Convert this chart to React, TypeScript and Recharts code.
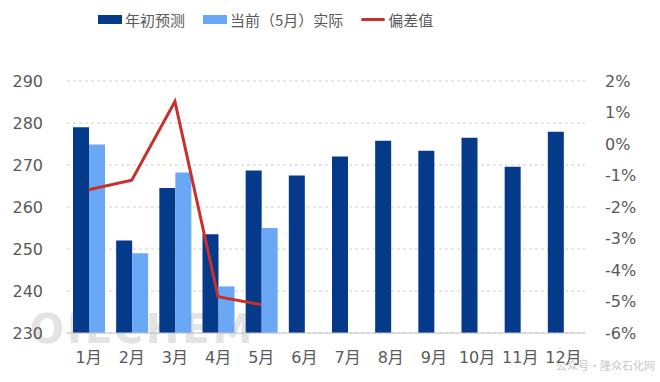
import React from "react";
import {
  ComposedChart,
  Bar,
  Line,
  XAxis,
  YAxis,
  CartesianGrid,
  Legend,
} from "recharts";

const months = ["1月", "2月", "3月", "4月", "5月", "6月", "7月", "8月", "9月", "10月", "11月", "12月"];
const forecast = [279, 252, 264.5, 253.5, 268.7, 267.5, 272, 275.8, 273.4, 276.5, 269.6, 277.9];
const actual: (number | null)[] = [274.9, 249, 268.2, 241.1, 255, null, null, null, null, null, null, null];
const deviation: (number | null)[] = [-1.45, -1.15, 1.35, -4.85, -5.1, null, null, null, null, null, null, null];

const leftTicks = [230, 240, 250, 260, 270, 280, 290];
const rightTicks = [-6, -5, -4, -3, -2, -1, 0, 1, 2];

const DARK = "#05398a";
const LIGHT = "#6aa8f6";
const RED = "#c9302c";
const TEXT = "#595959";
const FONT = "'DejaVu Sans', 'Noto Sans CJK SC', sans-serif";

const data = months.map((m, i) => ({
  month: m,
  forecast: forecast[i],
  actual: actual[i],
  deviation: deviation[i],
}));

const legendItems = [
  { label: "年初预测", color: DARK, kind: "bar" },
  { label: "当前（5月）实际", color: LIGHT, kind: "bar" },
  { label: "偏差值", color: RED, kind: "line" },
];

function MyLegend() {
  return (
    <div
      style={{
        display: "flex",
        alignItems: "center",
        fontFamily: "'Noto Sans CJK SC', sans-serif",
        fontSize: 15,
        color: TEXT,
        paddingLeft: 98,
      }}
    >
      {legendItems.map((it, i) => (
        <div key={it.label} style={{ display: "flex", alignItems: "center", marginLeft: i ? 18 : 0 }}>
          <span
            style={{
              display: "inline-block",
              width: 24,
              height: it.kind === "bar" ? 9 : 3,
              background: it.color,
              borderRadius: it.kind === "line" ? 2 : 0,
              marginRight: 3,
            }}
          />
          <span>{it.label}</span>
        </div>
      ))}
    </div>
  );
}

export default function App() {
  return (
    <div style={{ position: "absolute", left: 0, top: 0, width: 660, height: 382, background: "#fff" }}>
      <div
        style={{
          position: "absolute",
          left: 30,
          top: 306,
          fontFamily: "'DejaVu Sans', sans-serif",
          fontWeight: "bold",
          fontSize: 40,
          letterSpacing: 3,
          color: "#e3e3e3",
        }}
      >
        OILCHEM
      </div>
      <div
        style={{
          position: "absolute",
          left: 556,
          top: 357,
          whiteSpace: "nowrap",
          fontFamily: "'Noto Sans CJK SC', sans-serif",
          fontSize: 11,
          color: "#c8c8c8",
        }}
      >
        公众号·隆众石化网
      </div>
      <div style={{ position: "absolute", left: 0, top: 0 }}>
        <ComposedChart
          width={660}
          height={382}
          data={data}
          margin={{ top: 81, right: 0, bottom: 0, left: 0 }}
          barGap={0}
          barSize={16}
        >
          <CartesianGrid
            yAxisId="left"
            vertical={false}
            stroke="#d0d0d0"
            strokeDasharray="3 3"
          />
          <XAxis
            dataKey="month"
            height={49}
            tickLine={false}
            axisLine={{ stroke: "#c4c4c4" }}
            tickMargin={13}
            interval={0}
            tick={{ fill: TEXT, fontSize: 16, fontFamily: FONT }}
          />
          <YAxis
            yAxisId="left"
            orientation="left"
            width={67}
            domain={[230, 290]}
            ticks={leftTicks}
            axisLine={false}
            tickLine={false}
            tickMargin={18}
            tick={{ fill: TEXT, fontSize: 16, fontFamily: FONT }}
          />
          <YAxis
            yAxisId="right"
            orientation="right"
            width={75}
            domain={[-6, 2]}
            ticks={rightTicks}
            axisLine={false}
            tickLine={false}
            tickMargin={14}
            tickFormatter={(v) => `${v}%`}
            tick={{ fill: TEXT, fontSize: 16, fontFamily: FONT }}
          />
          <Legend
            layout="horizontal"
            verticalAlign="middle"
            align="center"
            wrapperStyle={{ top: 9, left: 0, width: 660 }}
            content={() => <MyLegend />}
          />
          <Bar yAxisId="left" dataKey="forecast" name="年初预测" fill={DARK} isAnimationActive={false} />
          <Bar yAxisId="left" dataKey="actual" name="当前（5月）实际" fill={LIGHT} isAnimationActive={false} />
          <Line
            yAxisId="right"
            dataKey="deviation"
            name="偏差值"
            type="linear"
            stroke={RED}
            strokeWidth={3}
            dot={false}
            activeDot={false}
            isAnimationActive={false}
          />
        </ComposedChart>
      </div>
    </div>
  );
}
